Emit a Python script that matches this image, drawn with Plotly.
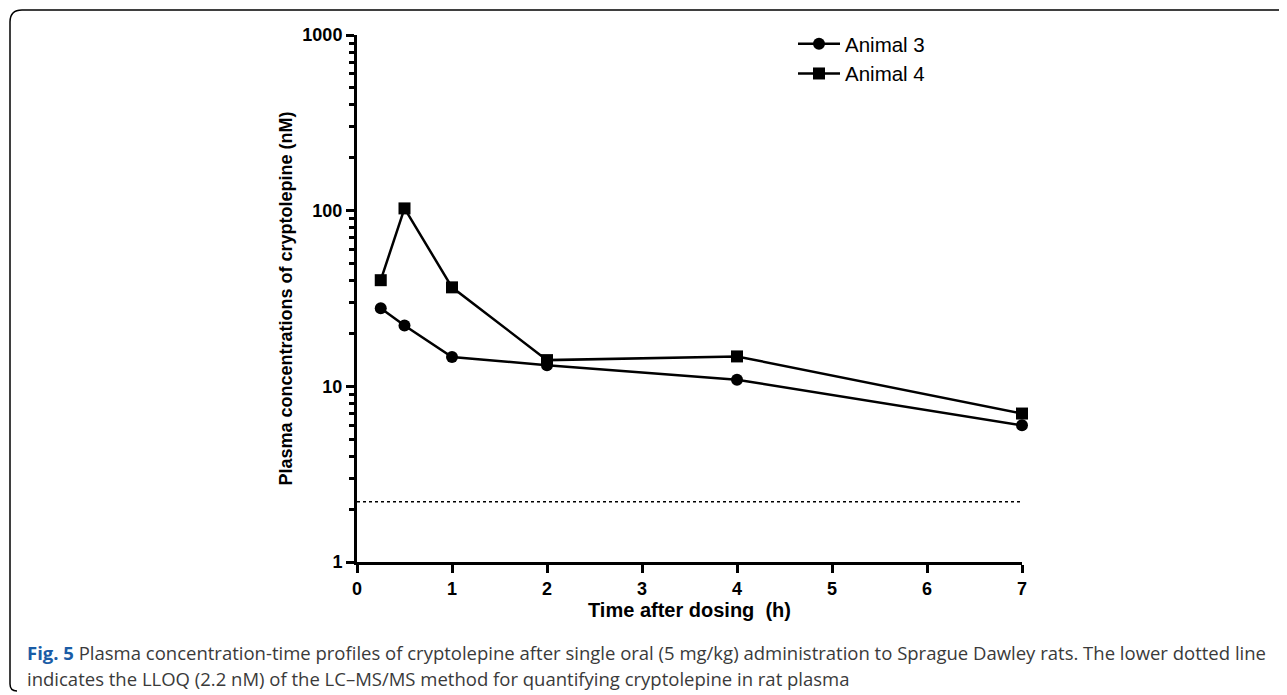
import plotly.graph_objects as go

# ---- data ----
time_h = [0.25, 0.5, 1, 2, 4, 7]
animal3 = [27.8, 22.2, 14.7, 13.2, 10.9, 6.0]
animal4 = [40.2, 103, 36.6, 14.1, 14.8, 7.0]
lloq_x = [0, 7]
lloq_y = [2.2, 2.2]
x_ticks = [0, 1, 2, 3, 4, 5, 6, 7]
y_ticks = [1, 10, 100, 1000]
y_minor_ticks = [m * d for d in (1, 10, 100) for m in range(2, 10)]

# page body adds an 8px offset; lay out in reference pixels minus that offset
OFF = 8
W, H = 1287 - OFF, 695 - OFF
L = 357 - OFF
T = 35 - OFF
R = W - (1022 - OFF)
B = H - (562 - OFF)
PW, PH = W - L - R, H - T - B

def px(x):
    return (x - OFF - L) / PW

def py(y):
    return (H - B - (y - OFF)) / PH

fig = go.Figure()
fig.add_trace(go.Scatter(
    x=lloq_x, y=lloq_y, mode="lines", showlegend=False,
    line=dict(color="black", width=1.5, dash="dot"), hoverinfo="skip"))
fig.add_trace(go.Scatter(
    x=time_h, y=animal3, mode="lines+markers", name="Animal 3",
    line=dict(color="black", width=2.5),
    marker=dict(symbol="circle", size=12, color="black"), cliponaxis=False))
fig.add_trace(go.Scatter(
    x=time_h, y=animal4, mode="lines+markers", name="Animal 4",
    line=dict(color="black", width=2.5),
    marker=dict(symbol="square", size=12, color="black"), cliponaxis=False))

axis_font = dict(family="Liberation Sans, Arial, sans-serif", size=18, color="black", weight="bold")

fig.update_xaxes(
    range=[0, 7], tickvals=x_ticks, showgrid=False, zeroline=False,
    showline=True, linecolor="black", linewidth=3,
    ticks="outside", ticklen=8, tickwidth=3, tickcolor="black",
    tickfont=axis_font,
    title=dict(text="Time after dosing  (h)", standoff=3,
               font=dict(family="Liberation Sans, Arial, sans-serif", size=20, color="black", weight="bold")))
fig.update_yaxes(
    type="log", range=[0, 3], tickvals=y_ticks, showgrid=False, zeroline=False,
    showline=True, linecolor="black", linewidth=3,
    ticks="outside", ticklen=8, tickwidth=3, tickcolor="black",
    tickfont=axis_font,
    minor=dict(tickvals=y_minor_ticks, ticks="outside", ticklen=5, tickwidth=2.5,
               tickcolor="black", showgrid=False),
    title=dict(text="Plasma concentrations of cryptolepine (nM)", standoff=6,
               font=dict(family="Liberation Sans, Arial, sans-serif", size=18, color="black", weight="bold")))

# open frame (top + left edges with rounded corners)
frame = (f"M {px(1287)} {py(10)} L {px(22)} {py(10)} "
         f"Q {px(10)} {py(10)} {px(10)} {py(22)} "
         f"L {px(10)} {py(684)} Q {px(10)} {py(691)} {px(17)} {py(691)}")
fig.add_shape(type="path", path=frame, xref="paper", yref="paper",
              line=dict(color="black", width=1.5))

cap_font = dict(family="Open Sans, sans-serif", size=18.5, color="#3a3a3a")
fig.add_annotation(
    xref="paper", yref="paper", x=px(25), y=py(652), xanchor="left", yanchor="middle",
    showarrow=False, font=cap_font,
    text=("<span style='color:#1a5ca6'><b>Fig. 5</b></span> Plasma concentration-time profiles of cryptolepine "
          "after single oral (5 mg/kg) administration to Sprague Dawley rats. The lower dotted line"))
fig.add_annotation(
    xref="paper", yref="paper", x=px(25), y=py(678), xanchor="left", yanchor="middle",
    showarrow=False, font=cap_font,
    text="indicates the LLOQ (2.2 nM) of the LC\u2013MS/MS method for quantifying cryptolepine in rat plasma")

fig.update_layout(
    width=W, height=H, margin=dict(l=L, r=R, t=T, b=B, autoexpand=False),
    paper_bgcolor="white", plot_bgcolor="white",
    legend=dict(x=px(793), y=py(24), xanchor="left", yanchor="top",
                font=dict(family="Liberation Sans, Arial, sans-serif", size=20.5, color="black"),
                bgcolor="rgba(0,0,0,0)", tracegroupgap=0, itemwidth=42),
)

fig.write_html("out.html")
